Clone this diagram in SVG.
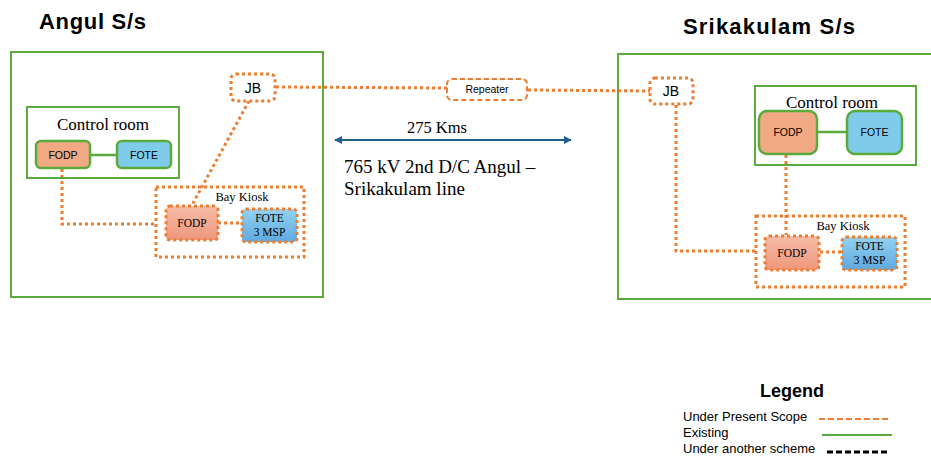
<svg xmlns="http://www.w3.org/2000/svg" width="931" height="456" viewBox="0 0 931 456">
<style>
.sans{font-family:"Liberation Sans",Arial,sans-serif;fill:#000}
.serif{font-family:"Liberation Serif","Times New Roman",serif;fill:#000}
.title{font-family:"Liberation Sans",Arial,sans-serif;font-weight:bold;font-size:22px;fill:#000}
.site{fill:none;stroke:#5BAA3C;stroke-width:2}
.room{fill:none;stroke:#5BAA3C;stroke-width:2}
.exist{stroke:#5BAA3C;stroke-width:2.5}
.fodp{fill:#F0A983;stroke:#5BAA3C;stroke-width:2.5}
.fote{fill:#7FCBEA;stroke:#5BAA3C;stroke-width:2.5}
.dot{fill:none;stroke:#ED7D31;stroke-width:3;stroke-dasharray:3 3}
.kfodp{fill:url(#gO);stroke:#ED7D31;stroke-width:3;stroke-dasharray:3 3}
.kfote{fill:url(#gB);stroke:#ED7D31;stroke-width:3;stroke-dasharray:3 3}
.jb{fill:#fff;stroke:#ED7D31;stroke-width:3;stroke-dasharray:3 3}
</style>
<defs>
<linearGradient id="gO" x1="0" y1="0" x2="0" y2="1"><stop offset="0" stop-color="#F6BCA8"/><stop offset="1" stop-color="#EE977C"/></linearGradient>
<linearGradient id="gB" x1="0" y1="0" x2="0" y2="1"><stop offset="0" stop-color="#93D2F2"/><stop offset="1" stop-color="#5EA9E0"/></linearGradient>
<marker id="ah" viewBox="0 0 10 10" refX="9" refY="5" markerWidth="4" markerHeight="4" orient="auto-start-reverse"><path d="M0,0 L10,5 L0,10 z" fill="#1F5F8B"/></marker>
</defs>

<text class="title" x="39" y="29" textLength="107">Angul S/s</text>
<text class="title" x="683" y="34" textLength="172">Srikakulam S/s</text>

<g id="angul-ss"><rect class="site" x="11" y="52" width="312" height="245"/></g>
<g id="srikakulam-ss"><rect class="site" x="618" y="54" width="330" height="245"/></g>

<g id="connectors">
<line class="exist" x1="90" y1="155" x2="117" y2="155"/>
<line class="exist" x1="817" y1="132" x2="847" y2="132"/>
<polyline class="dot" points="62,169 62,224 156,224"/>
<line class="dot" x1="249" y1="101" x2="192" y2="205"/>
<line class="dot" x1="218" y1="223" x2="242" y2="223"/>
<line class="dot" x1="276" y1="87" x2="447" y2="88"/>
<line class="dot" x1="528" y1="90" x2="650" y2="91"/>
<polyline class="dot" points="676,105 676,251 756,251"/>
<line class="dot" x1="786" y1="155" x2="786" y2="235"/>
<line class="dot" x1="820" y1="252" x2="842" y2="252"/>
<line x1="335" y1="140" x2="571" y2="140" stroke="#1F5F8B" stroke-width="2" marker-start="url(#ah)" marker-end="url(#ah)"/>
</g>

<g id="control-room-left">
<rect class="room" x="27" y="107" width="152" height="71"/>
<text class="serif" x="103" y="130" font-size="17" text-anchor="middle">Control room</text>
</g>
<g id="fodp-left"><rect class="fodp" x="36" y="141" width="54" height="27" rx="5"/><text class="sans" x="63" y="158.5" font-size="10.5" text-anchor="middle">FODP</text></g>
<g id="fote-left"><rect class="fote" x="117" y="141" width="54" height="27" rx="5"/><text class="sans" x="144" y="158.5" font-size="10.5" text-anchor="middle">FOTE</text></g>

<g id="bay-kiosk-left">
<rect class="dot" x="156" y="187" width="148" height="70"/>
<text class="serif" x="242" y="201" font-size="12.5" text-anchor="middle">Bay Kiosk</text>
</g>
<g id="kiosk-fodp-left"><rect class="kfodp" x="166" y="206" width="52" height="34" rx="4"/><text class="serif" x="192" y="227" font-size="11.5" text-anchor="middle">FODP</text></g>
<g id="kiosk-fote-left"><rect class="kfote" x="242" y="209" width="55" height="33" rx="4"/><text class="serif" x="269.5" y="222" font-size="11.5" text-anchor="middle">FOTE</text><text class="serif" x="269.5" y="236" font-size="11.5" text-anchor="middle">3 MSP</text></g>

<g id="jb-left"><rect class="jb" x="231" y="74" width="44" height="27" rx="5"/><text class="sans" x="253" y="93" font-size="14" text-anchor="middle">JB</text></g>

<g id="repeater"><rect x="447" y="79" width="80" height="21" rx="5" fill="#fff" stroke="#ED7D31" stroke-width="2" stroke-dasharray="5 3"/><text class="sans" x="487" y="93" font-size="10.5" text-anchor="middle">Repeater</text></g>

<g id="jb-right"><rect class="jb" x="650" y="78" width="43" height="26" rx="5"/><text class="sans" x="671" y="96" font-size="14" text-anchor="middle">JB</text></g>

<g id="control-room-right">
<rect class="room" x="755" y="86" width="161" height="79"/>
<text class="serif" x="832" y="108" font-size="17" text-anchor="middle">Control room</text>
</g>
<g id="fodp-right"><rect class="fodp" x="759" y="111" width="58" height="43" rx="8"/><text class="sans" x="788" y="136" font-size="10.5" text-anchor="middle">FODP</text></g>
<g id="fote-right"><rect class="fote" x="847" y="111" width="55" height="43" rx="8"/><text class="sans" x="874.5" y="136" font-size="10.5" text-anchor="middle">FOTE</text></g>

<g id="bay-kiosk-right">
<rect class="dot" x="756" y="216" width="149" height="71"/>
<text class="serif" x="843" y="230" font-size="12.5" text-anchor="middle">Bay Kiosk</text>
</g>
<g id="kiosk-fodp-right"><rect class="kfodp" x="765" y="236" width="54" height="34" rx="4"/><text class="serif" x="792" y="257" font-size="11.5" text-anchor="middle">FODP</text></g>
<g id="kiosk-fote-right"><rect class="kfote" x="842" y="237" width="55" height="33" rx="4"/><text class="serif" x="869.5" y="250" font-size="11.5" text-anchor="middle">FOTE</text><text class="serif" x="869.5" y="264" font-size="11.5" text-anchor="middle">3 MSP</text></g>

<g id="line-label">
<text class="serif" x="437" y="133" font-size="16.5" text-anchor="middle">275 Kms</text>
<text class="serif" x="344" y="173" font-size="19">765 kV 2nd D/C Angul –</text>
<text class="serif" x="344" y="195" font-size="19">Srikakulam line</text>
</g>

<g id="legend">
<text class="sans" x="792" y="397" font-size="18" font-weight="bold" text-anchor="middle">Legend</text>
<text class="sans" x="683" y="421" font-size="13">Under Present Scope</text>
<line x1="819" y1="419" x2="890" y2="419" stroke="#ED7D31" stroke-width="2" stroke-dasharray="6 3"/>
<text class="sans" x="683" y="437" font-size="13">Existing</text>
<line x1="822" y1="435" x2="892" y2="435" stroke="#5BAA3C" stroke-width="2"/>
<text class="sans" x="683" y="453" font-size="13">Under another scheme</text>
<line x1="827" y1="452" x2="890" y2="452" stroke="#000" stroke-width="3" stroke-dasharray="6 3"/>
</g>
</svg>
